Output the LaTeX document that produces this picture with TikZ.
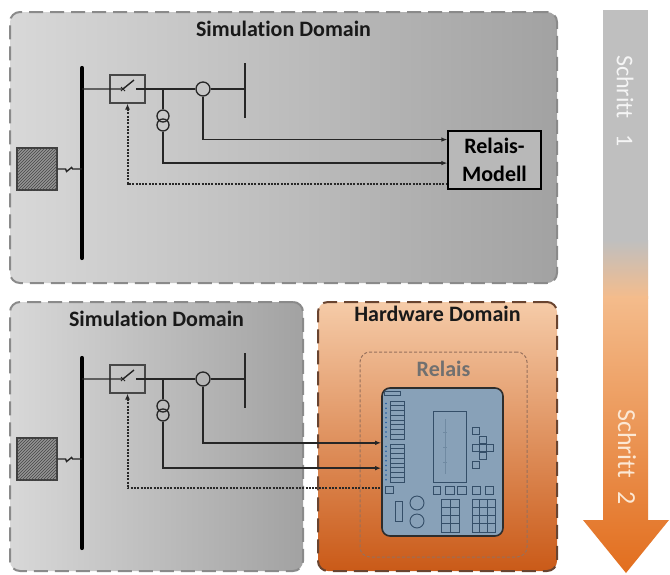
\documentclass[tikz,border=0pt]{standalone}
\usepackage{fontspec}
\setmainfont{Carlito}[Ligatures=NoCommon]
\usetikzlibrary{arrows.meta,calc,patterns}

\definecolor{panelL}{RGB}{216,216,216}
\definecolor{panelR}{RGB}{162,162,162}
\definecolor{panelEdge}{RGB}{138,138,138}
\definecolor{hwTop}{RGB}{245,203,168}
\definecolor{hwBot}{RGB}{202,90,24}
\definecolor{hwEdge}{RGB}{105,68,48}
\definecolor{frameEdge}{RGB}{150,112,92}
\definecolor{wirecol}{RGB}{38,38,38}
\definecolor{ctrlcol}{RGB}{40,40,40}
\definecolor{modelFill}{RGB}{184,184,184}
\definecolor{devFill}{RGB}{136,161,184}
\definecolor{devEdge}{RGB}{45,45,45}
\definecolor{devLine}{RGB}{52,78,104}
\definecolor{devFaint}{RGB}{112,138,162}
\definecolor{dotBlue}{RGB}{30,90,160}
\definecolor{stepGray}{RGB}{191,191,191}
\definecolor{stepLight}{RGB}{244,188,140}
\definecolor{stepDark}{RGB}{226,110,30}
\definecolor{relaisGray}{RGB}{112,112,112}

\tikzset{
  panel/.style={rounded corners=10pt, line width=2pt, dash pattern=on 14pt off 7pt, inner sep=0pt},
  simpanel/.style={panel, draw=panelEdge, left color=panelL, right color=panelR},
  hwpanel/.style={panel, draw=hwEdge, top color=hwTop, bottom color=hwBot},
  relframe/.style={draw=frameEdge, line width=1pt, dash pattern=on 3pt off 2pt, rounded corners=10pt, inner sep=0pt},
  paneltitle/.style={font=\fontsize{22}{26}\selectfont\bfseries, text=black!90, anchor=base, inner sep=0pt},
  wire/.style={draw=wirecol, line width=1.4pt},
  sig/.style={wire, -{Latex[length=6pt,width=4.5pt]}},
  ctrl/.style={draw=ctrlcol, line width=2pt, dash pattern=on 2pt off 1.3pt},
  ctrltip/.style={{Latex[length=6pt,width=5pt]}-},
  busline/.style={draw=black, line width=4.2pt, line cap=round},
  rbusline/.style={draw=wirecol, line width=2pt},
  swbox/.style={draw=wirecol!85, line width=1.4pt, minimum width=35pt, minimum height=28pt, inner sep=0pt},
  ctcirc/.style={circle, draw=wirecol, line width=1.3pt, minimum size=14pt, inner sep=0pt},
  vtcirc/.style={circle, draw=wirecol, line width=1.3pt, minimum size=12pt, inner sep=0pt},
  genbox/.style={draw=black!75, line width=1.2pt, fill=black!42, minimum width=40pt, minimum height=42pt, inner sep=0pt,
    postaction={pattern=north east lines, pattern color=black!72}},
  modelbox/.style={draw=black, line width=1.2pt, fill=modelFill, minimum width=93pt, minimum height=58pt, inner sep=0pt,
    align=center, font=\fontsize{22}{28}\selectfont\bfseries},
  device/.style={draw=devEdge, line width=1.6pt, fill=devFill, rounded corners=8pt, minimum width=121pt, minimum height=148pt, inner sep=0pt},
  devdetail/.style={draw=devLine, line width=0.9pt},
  steptext/.style={rotate=-90, inner sep=0pt},
}

% one feeder: busbar, breaker, current and voltage transformers, generator
\newcommand{\feeder}[2]{%
\begin{scope}[shift={(0,#2)}]
  \coordinate (#1busT) at (82,68);
  \coordinate (#1busB) at (82,258);
  \coordinate (#1rbT) at (245,63);
  \coordinate (#1rbB) at (245,118);
  \node[swbox] (#1sw) at (127.5,89) {};
  \node[ctcirc] (#1ct) at (203,89) {};
  \node[vtcirc] (#1vta) at (163,116) {};
  \node[vtcirc] (#1vtb) at (163,125) {};
  \node[genbox] (#1gen) at (37,169) {};
  \draw[busline] (#1busT) -- (#1busB);
  \draw[rbusline] (#1rbT) -- (#1rbB);
  % breaker contact
  \draw[wire] (#1busT |- #1sw.center) -- ([xshift=-4.5pt]#1sw.center) -- ++(11,-9);
  \draw[wire, line width=0.9pt] ([shift={(-6.5,-2)}]#1sw.center) -- ++(4,4)
                                ([shift={(-6.5,2)}]#1sw.center) -- ++(4,-4);
  \draw[wire] ([xshift=8.5pt]#1sw.center) -- (#1ct.west);
  \draw[wire] (#1ct.east) -- (#1rbT |- #1ct.east);
  \draw[wire] (#1ct.west -| #1vta.north) -- (#1vta.north);
  % generator connection with break mark
  \draw[wire] (#1gen.east) -- ++(8,0) -- ++(1,2.5) -- ++(5,-4) -- ++(1,1.5) -- (#1busT |- #1gen.east);
\end{scope}}

\begin{document}
\begin{tikzpicture}[x=1pt,y=-1pt]
\fill[white] (0,0) rectangle (670,574);
\useasboundingbox (0,0) rectangle (670,574);

% ---------- step 1: everything simulated ----------
\node[simpanel, minimum width=547pt, minimum height=271pt] (simA) at (283.5,147.5) {};
\node[paneltitle] (simAt) at ([yshift=-25pt]simA.north) {Simulation Domain};
\node[modelbox] (model) at (494.5,160) {Relais-\\Modell};
\feeder{T}{0}
\draw[sig] (Tct.south) |- ($(model.north west)!0.155!(model.south west)$);
\draw[sig] (Tvtb.south) |- ($(model.north west)!0.552!(model.south west)$);
\draw[ctrl, ctrltip] (Tsw.south) |- ($(model.north west)!0.897!(model.south west)$);

% ---------- step 2: relay as hardware in the loop ----------
\node[simpanel, minimum width=293pt, minimum height=269pt] (simB) at (156.5,436.5) {};
\node[paneltitle] (simBt) at ([yshift=-25pt]simB.north) {Simulation Domain};
\node[hwpanel, minimum width=239pt, minimum height=269pt] (hw) at (437.5,436.5) {};
\node[paneltitle] (hwt) at ([yshift=-20pt]hw.north) {Hardware Domain};
\node[relframe, minimum width=167pt, minimum height=205pt] (frame) at (443.5,454.5) {};
\node[paneltitle, text=relaisGray] (framet) at ([yshift=-25pt]frame.north) {Relais};
\node[device] (dev) at (442.5,462) {};

% front panel of the protection relay
\begin{scope}[devdetail]
  \draw (384,391) rectangle (400,395);
  \foreach \i in {0,...,7} {
    \draw (390,{401+4.75*\i}) rectangle (404,{401+4.75*(\i+1)});
    \fill[dotBlue] (386,{403.4+4.75*\i}) circle (0.9);
    \draw (390,{444+4.75*\i}) rectangle (404,{444+4.75*(\i+1)});
    \fill[dotBlue] (386,{446.4+4.75*\i}) circle (0.9);
  }
  \draw (385,486) rectangle (393,493);
  % display
  \draw (433,411) rectangle (466,482);
  \draw[devFaint, line width=0.7pt] (445,419) -- (445,474)
    (443,432) -- (447,432) (443,447) -- (447,447) (443,462) -- (447,462);
  % navigation keys
  \foreach \x/\y in {472/427, 479/436, 472/444, 479/444, 486/444, 479/452, 472/461}
    \draw (\x,\y) rectangle ++(7,7);
  % function keys
  \foreach \x/\w in {433/7.5, 445/9, 457/9, 472/8, 485/8}
    \draw (\x,486) rectangle ++(\w,8);
  % LED bar and knobs
  \draw (395,501) rectangle (402,521);
  \draw (417,503) circle (7);
  \draw (417,521) circle (7);
  % keypads
  \draw (441,499) rectangle (459,532);
  \draw (450,499) -- (450,532);
  \foreach \y in {507.25,515.5,523.75} \draw (441,\y) -- (459,\y);
  \draw (472,499) rectangle (495,532);
  \draw (479.67,499) -- (479.67,532) (487.33,499) -- (487.33,532);
  \foreach \y in {507.25,515.5,523.75} \draw (472,\y) -- (495,\y);
\end{scope}

\feeder{B}{290}
\draw[sig] (Bct.south) |- ($(dev.north west)!0.372!(dev.south west)$);
\draw[sig] (Bvtb.south) |- ($(dev.north west)!0.541!(dev.south west)$);
\draw[ctrl, ctrltip] (Bsw.south) |- ($(dev.north west)!0.676!(dev.south west)$);

% ---------- step arrow ----------
\fill[stepGray] (603,10) rectangle (648,242);
\shade[top color=stepGray, bottom color=stepLight] (603,240) rectangle (648,298);
\shade[top color=stepLight, bottom color=stepDark]
  (603,296) -- (648,296) -- (648,520) -- (669,520) -- (626,573) -- (583,520) -- (603,520) -- cycle;
\node[steptext, text=white!96!black, font=\fontsize{24}{28}\selectfont] (step1) at (625,101) {Schritt\hspace{16pt}1};
\node[steptext, text={rgb,255:red,252;green,232;blue,212}, font=\fontsize{26}{30}\selectfont] (step2) at (627,457) {Schritt\hspace{14pt}2};
\end{tikzpicture}
\end{document}
